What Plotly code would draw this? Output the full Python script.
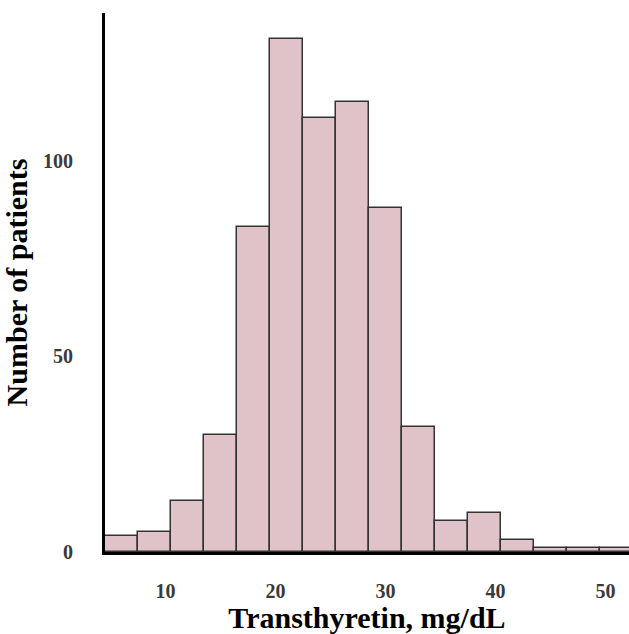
import plotly.graph_objects as go

# Histogram bins (bin centers, width 3 mg/dL) and patient counts
bin_centers = [6, 9, 12, 15, 18, 21, 24, 27, 30, 33, 36, 39, 42, 45, 48, 51]
counts = [4, 5, 13, 30, 83, 131, 111, 115, 88, 32, 8, 10, 3, 1, 1, 1]
bin_width = 3
x_ticks = [10, 20, 30, 40, 50]
y_ticks = [0, 50, 100]

fig = go.Figure()
fig.add_trace(go.Bar(
    x=bin_centers,
    y=counts,
    width=[bin_width] * len(bin_centers),
    marker=dict(color="#e0c3c8", line=dict(color="#333333", width=1.5)),
    showlegend=False,
))

serif = "Liberation Serif, Times New Roman, serif"

fig.update_layout(
    width=629, height=634,
    margin=dict(l=105, r=0, t=13, b=82),
    paper_bgcolor="white", plot_bgcolor="white",
    bargap=0,
    xaxis=dict(
        range=[4.5, 52.14],
        tickvals=x_ticks,
        ticks="",
        automargin=False,
        showgrid=False, zeroline=False,
        showline=True, linecolor="black", linewidth=3,
        tickfont=dict(family=serif, size=20, color="#3a3a3a", weight="bold"),
        ticklabelstandoff=19,
        title=dict(text="<b>Transthyretin, mg/dL</b>",
                   font=dict(family=serif, size=30, color="black"),
                   standoff=3),
    ),
    yaxis=dict(
        range=[0, 137.7],
        tickvals=y_ticks,
        ticks="",
        automargin=False,
        showgrid=False, zeroline=False,
        showline=True, linecolor="black", linewidth=3,
        tickfont=dict(family=serif, size=20, color="#3a3a3a", weight="bold"),
        ticklabelstandoff=25,
        title=dict(text="<b>Number of patients</b>",
                   font=dict(family=serif, size=30, color="black"),
                   standoff=10),
    ),
)

fig.write_html("out.html",
               config={"displayModeBar": False},
               post_script="document.body.style.margin='0';document.body.style.overflow='hidden';")
